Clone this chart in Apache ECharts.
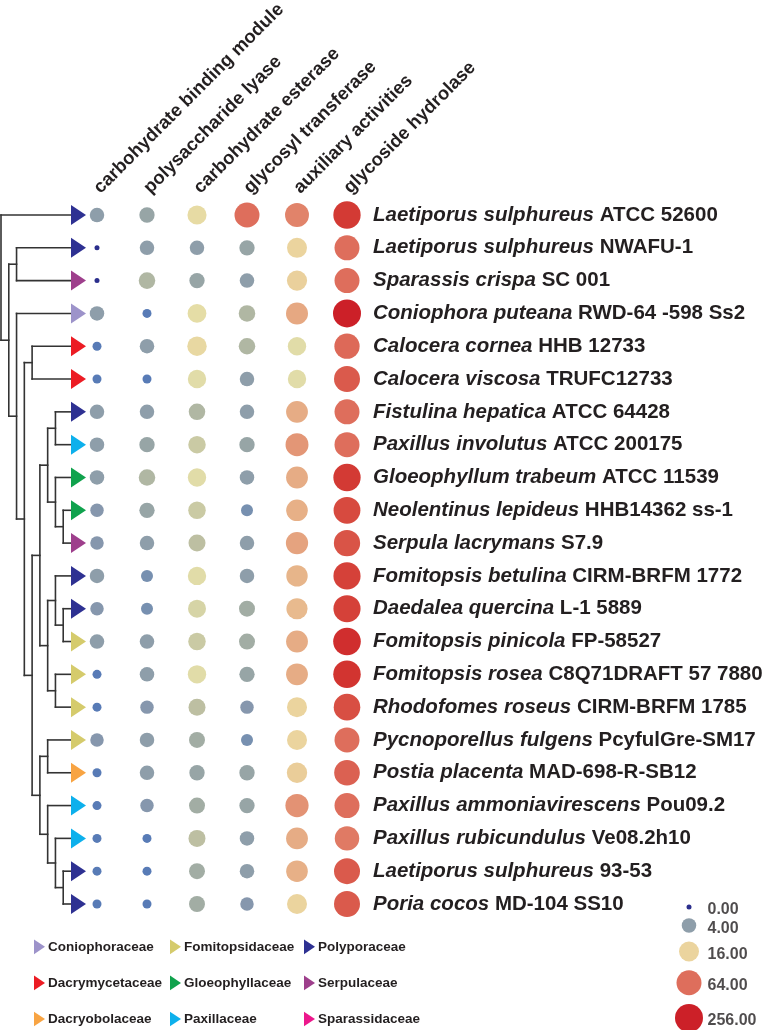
<!DOCTYPE html>
<html>
<head>
<meta charset="utf-8">
<script src="https://cdn.jsdelivr.net/npm/echarts@6/dist/echarts.min.js"></script>
<style>
html,body{margin:0;padding:0;background:#fff;}
#chart{width:766px;height:1030px;}
</style>
</head>
<body>
<div id="chart"></div>
<script>
// ---------------- data ----------------
const columns = ['carbohydrate binding module','polysaccharide lyase','carbohydrate esterase','glycosyl transferase','auxiliary activities','glycoside hydrolase'];
const species = ['Laetiporus sulphureus','Laetiporus sulphureus','Sparassis crispa','Coniophora puteana','Calocera cornea','Calocera viscosa','Fistulina hepatica','Paxillus involutus','Gloeophyllum trabeum','Neolentinus lepideus','Serpula lacrymans','Fomitopsis betulina','Daedalea quercina','Fomitopsis pinicola','Fomitopsis rosea','Rhodofomes roseus','Pycnoporellus fulgens','Postia placenta','Paxillus ammoniavirescens','Paxillus rubicundulus','Laetiporus sulphureus','Poria cocos'];
const strains = ['ATCC 52600','NWAFU-1','SC 001','RWD-64 -598 Ss2','HHB 12733','TRUFC12733','ATCC 64428','ATCC 200175','ATCC 11539','HHB14362 ss-1','S7.9','CIRM-BRFM 1772','L-1 5889','FP-58527','C8Q71DRAFT 57 7880','CIRM-BRFM 1785','PcyfulGre-SM17','MAD-698-R-SB12','Pou09.2','Ve08.2h10','93-53','MD-104 SS10'];
const rowFamily = ['Polyporaceae','Polyporaceae','Serpulaceae','Coniophoraceae','Dacrymycetaceae','Dacrymycetaceae','Polyporaceae','Paxillaceae','Gloeophyllaceae','Gloeophyllaceae','Serpulaceae','Polyporaceae','Polyporaceae','Fomitopsidaceae','Fomitopsidaceae','Fomitopsidaceae','Fomitopsidaceae','Dacryobolaceae','Paxillaceae','Paxillaceae','Polyporaceae','Polyporaceae'];
const familyNames = ['Coniophoraceae','Dacrymycetaceae','Dacryobolaceae','Fomitopsidaceae','Gloeophyllaceae','Paxillaceae','Polyporaceae','Serpulaceae','Sparassidaceae'];

// counts per column (rows in species order)
const cbm = [4,0,0,4,1,1,4,4,4,3,3,4,3,4,1,1,3,1,1,1,1,1];
const pl  = [5,4,7,1,4,1,4,5,7,5,4,2,2,4,4,3,4,4,3,1,1,1];
const ce  = [13,4,5,12,14,11,7,9,11,9,8,11,10,9,11,8,6,5,6,8,6,6];
const gt  = [64,5,4,7,7,4,4,5,4,2,4,4,6,6,5,3,2,5,5,4,4,3];
const aa  = [50,16,17,32,11,11,30,40,30,28,34,26,24,30,30,16,16,18,42,30,28,16];
const gh  = [160,64,64,256,70,90,64,64,160,120,100,140,140,200,180,110,64,80,64,56,90,90];

const sizeLegendValues = [0,4,16,64,256];

// tree: [node, depth level, child A, child B]; numbers are leaf row indices
const treeNodes = [
  ['root',0,0,'C'],
  ['C',1,'A','B'],
  ['A',2,1,2],
  ['B',2,3,'D'],
  ['D',3,'E','F'],
  ['E',4,4,5],
  ['F',4,'G','H'],
  ['G',5,'I','J'],
  ['I',6,'K','L'],
  ['K',7,6,7],
  ['L',7,8,'M'],
  ['M',8,9,10],
  ['J',6,'N','O'],
  ['N',7,11,'P'],
  ['P',8,12,13],
  ['O',7,14,15],
  ['H',5,'Q','R'],
  ['Q',6,16,17],
  ['R',6,18,'S'],
  ['S',7,19,'T'],
  ['T',8,20,21]
];
const LEAF_LEVEL = 9;

// ---------------- styling helpers ----------------
const familyColors = {
  Coniophoraceae:'#9D93CA', Dacrymycetaceae:'#EC1C24', Dacryobolaceae:'#F8A443',
  Fomitopsidaceae:'#D5CB6C', Gloeophyllaceae:'#10A24D', Paxillaceae:'#0DB0EC',
  Polyporaceae:'#2E3192', Serpulaceae:'#9E3F8C', Sparassidaceae:'#EC178C'
};
const colorStops = ['#2B2E8C','#3F55A8','#587BB6','#6683B2','#7790B0','#8496AE','#8E9EAA','#9CA9A4','#BDBFA2','#E4DFA8','#EBD49E','#E8BE90','#E6A882','#E28C70','#DE6E5C','#DA5A4C','#D6463C','#D23430','#CC2028'];
const sizeStops = [5,9,12,14.5,17,20,22,25,27,28]; // for levels -1..8
function level(c){ return c > 0 ? Math.log2(c) : -1; }
function sizeFor(l){
  const t = Math.max(-1, Math.min(8, l)) + 1;
  const i = Math.min(8, Math.floor(t));
  const f = t - i;
  return sizeStops[i] + (sizeStops[i+1] - sizeStops[i]) * f;
}
const triPath = 'path://M0,0L15,10L0,20Z';
const TXT = '#231F20';
const FONT = '"Liberation Sans", Arial, sans-serif';

// ---------------- derived ----------------
const nodeMap = {};
treeNodes.forEach(n => nodeMap[n[0]] = n);
function pos(ch){
  if (typeof ch === 'number') return [LEAF_LEVEL, ch];
  const n = nodeMap[ch];
  const a = pos(n[2]), b = pos(n[3]);
  return [n[1], (a[1] + b[1]) / 2];
}
const treeData = treeNodes.map(n => {
  const a = pos(n[2]), b = pos(n[3]);
  return [n[1], (a[1] + b[1]) / 2, a[0], a[1], b[0], b[1]];
});

const matrixCols = [cbm, pl, ce, gt, aa, gh];
const matrixData = [];
matrixCols.forEach((arr, ci) => arr.forEach((v, ri) => matrixData.push([ci, ri, v, level(v)])));

// size legend vertical layout computed from bubble sizes
const legSizes = sizeLegendValues.map(v => sizeFor(level(v)));
const LEG_H = 111;
let halfSum = 0;
for (let i = 1; i < legSizes.length; i++) halfSum += (legSizes[i-1] + legSizes[i]) / 2;
const gap = (LEG_H - halfSum) / (legSizes.length - 1);
const legPos = [0];
for (let i = 1; i < legSizes.length; i++) legPos.push(legPos[i-1] + (legSizes[i-1] + legSizes[i]) / 2 + gap);
const sizeLegData = sizeLegendValues.map((v, i) => [0, legPos[i], v, level(v)]);
const sizeLegLabels = sizeLegendValues.map((v, i) => [1, legPos[i], v]);

// ---------------- chart ----------------
const GRID_TOP = 198.6, GRID_H = 721.8;
const chart = echarts.init(document.getElementById('chart'), null, {renderer:'canvas'});

const familySeries = familyNames.map(f => ({
  type:'scatter', name:f, xAxisIndex:0, yAxisIndex:0, clip:false,
  symbol: triPath, symbolSize:[15,20], symbolOffset:[7.5,0],
  itemStyle:{color: familyColors[f], opacity:1},
  silent:true,
  data: rowFamily.map((rf, i) => rf === f ? [LEAF_LEVEL, i] : null).filter(d => d)
}));

function legendCol(names, left){
  return {
    data: names.map(n => ({name:n, icon: triPath})),
    orient:'vertical', left:left, top:939.5, padding:0,
    itemWidth:11, itemHeight:18, itemGap:21.4,
    selectedMode:false,
    textStyle:{fontFamily:FONT, fontWeight:'bold', fontSize:13.5, color:TXT, padding:[0,0,0,-2]}
  };
}

const option = {
  backgroundColor:'#fff',
  animation:false,
  legend:[
    legendCol(familyNames.slice(0,3), 34),
    legendCol(familyNames.slice(3,6), 170),
    legendCol(familyNames.slice(6,9), 304)
  ],
  grid:[
    {left:1, top:GRID_TOP, width:70, height:GRID_H, outerBoundsMode:'none', containLabel:false},
    {left:72, top:GRID_TOP, width:300, height:GRID_H, outerBoundsMode:'none', containLabel:false},
    {left:689, top:907, width:14, height:LEG_H, outerBoundsMode:'none', containLabel:false}
  ],
  xAxis:[
    {type:'value', gridIndex:0, min:0, max:LEAF_LEVEL, show:false},
    {type:'category', gridIndex:1, data:columns, position:'top',
     axisLine:{show:false}, axisTick:{show:false}, splitLine:{show:false},
     axisLabel:{rotate:-45, margin:8, interval:0, fontFamily:FONT, fontWeight:'bold', fontSize:18.5, color:TXT}},
    {type:'value', gridIndex:2, min:0, max:1, show:false}
  ],
  yAxis:[
    {type:'value', gridIndex:0, min:-0.5, max:species.length-0.5, inverse:true, show:false},
    {type:'category', gridIndex:1, data:species.map((s,i)=>s+' '+strains[i]), inverse:true, position:'right',
     axisLine:{show:false}, axisTick:{show:false}, splitLine:{show:false},
     axisLabel:{margin:1, interval:0, color:TXT,
       formatter:(v, i) => '{i|' + species[i] + '}{n| ' + strains[i] + '}',
       rich:{
         i:{fontFamily:FONT, fontStyle:'italic', fontWeight:'bold', fontSize:20.5, color:TXT},
         n:{fontFamily:FONT, fontWeight:'bold', fontSize:20.5, color:TXT}
       }}},
    {type:'value', gridIndex:2, min:0, max:LEG_H, inverse:true, show:false}
  ],
  visualMap:{
    type:'continuous', show:false, dimension:3, min:-1, max:8,
    seriesIndex:[1 + familyNames.length, 2 + familyNames.length],
    inRange:{color: colorStops}
  },
  series:[
    {
      type:'custom', xAxisIndex:0, yAxisIndex:0, clip:false, silent:true,
      encode:{x:0, y:1},
      data: treeData,
      renderItem:(params, api) => {
        const p = api.coord([api.value(0), api.value(1)]);
        const c1 = api.coord([api.value(2), api.value(3)]);
        const c2 = api.coord([api.value(4), api.value(5)]);
        const st = {stroke:'#333333', lineWidth:1.6, lineCap:'square', fill:null};
        return {type:'group', children:[
          {type:'line', shape:{x1:p[0], y1:c1[1], x2:p[0], y2:c2[1]}, style:st},
          {type:'line', shape:{x1:p[0], y1:c1[1], x2:c1[0], y2:c1[1]}, style:st},
          {type:'line', shape:{x1:p[0], y1:c2[1], x2:c2[0], y2:c2[1]}, style:st}
        ]};
      }
    },
    ...familySeries,
    {
      type:'scatter', xAxisIndex:1, yAxisIndex:1, clip:false, silent:true,
      symbol:'circle', symbolSize:(d) => sizeFor(d[3]),
      itemStyle:{opacity:1},
      data: matrixData
    },
    {
      type:'scatter', xAxisIndex:2, yAxisIndex:2, clip:false, silent:true,
      symbol:'circle', symbolSize:(d) => sizeFor(d[3]),
      itemStyle:{opacity:1},
      data: sizeLegData
    },
    {
      type:'scatter', xAxisIndex:2, yAxisIndex:2, clip:false, silent:true,
      symbolSize:1, itemStyle:{color:'rgba(0,0,0,0)'},
      label:{show:true, position:'right', distance:4, offset:[0,3], formatter:(p) => p.value[2].toFixed(2),
        fontFamily:FONT, fontWeight:'bold', fontSize:16, color:TXT},
      data: sizeLegLabels
    }
  ]
};
chart.setOption(option);
</script>
</body>
</html>
